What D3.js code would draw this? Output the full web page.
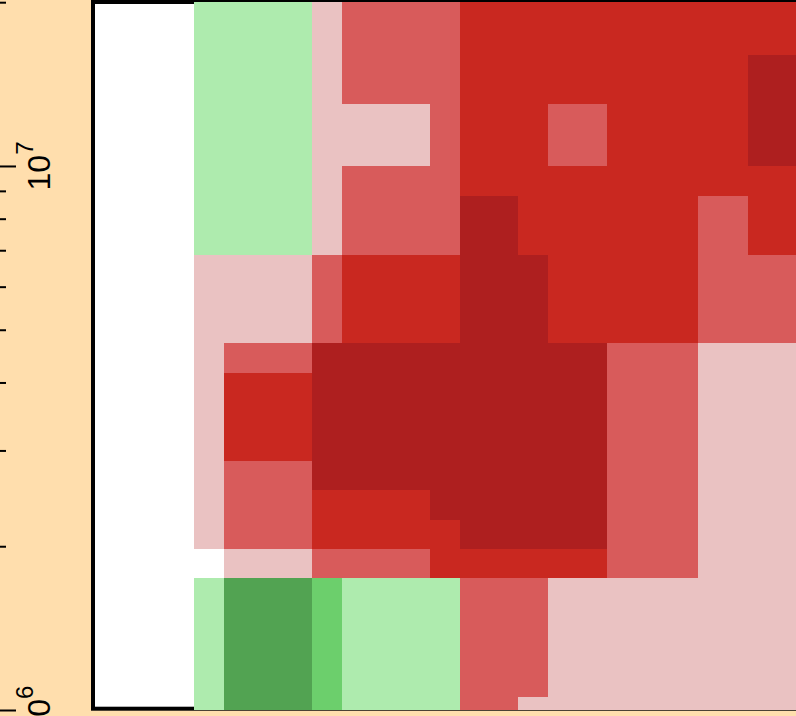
<!DOCTYPE html>
<html>
<head>
<meta charset="utf-8">
<script src="https://cdn.jsdelivr.net/npm/d3@7"></script>
<style>
  html, body { margin: 0; padding: 0; background: #FFDEAD; }
  svg { display: block; }
</style>
</head>
<body>
<svg id="chart" width="796" height="716"></svg>
<script>
// Column edges (x, in column units) and row edges (y, log scale values)
const xEdges = [0, 1, 4, 5, 8, 9, 11, 12, 14, 17.08, 18.78, 20.6];
const yEdges = [1e6, 1.057e6, 1.748e6, 1.977e6, 2.235e6, 2.537e6, 2.870e6,
                4.164e6, 4.727e6, 6.862e6, 8.809e6, 1e7, 1.3e7, 1.6e7, 2e7];
// Levels per row (bottom row first), one value per column; null = empty
// -3 dark green, -2 green, -1 light green, 1 light red, 2 mid red, 3 red, 4 dark red
const levels = [
  [-1, -3, -2, -1, -1, 2, 1, 1, 1, 1, 1],   // 1.00e6 - 1.06e6
  [-1, -3, -2, -1, -1, 2, 2, 1, 1, 1, 1],   // 1.06e6 - 1.75e6
  [null, 1, 2, 2, 3, 3, 3, 3, 2, 1, 1],     // 1.75e6 - 1.98e6
  [1, 2, 3, 3, 3, 4, 4, 4, 2, 1, 1],        // 1.98e6 - 2.24e6
  [1, 2, 3, 3, 4, 4, 4, 4, 2, 1, 1],        // 2.24e6 - 2.54e6
  [1, 2, 4, 4, 4, 4, 4, 4, 2, 1, 1],        // 2.54e6 - 2.87e6
  [1, 3, 4, 4, 4, 4, 4, 4, 2, 1, 1],        // 2.87e6 - 4.16e6
  [1, 2, 4, 4, 4, 4, 4, 4, 2, 1, 1],        // 4.16e6 - 4.73e6
  [1, 1, 2, 3, 3, 4, 4, 3, 3, 2, 2],        // 4.73e6 - 6.86e6
  [-1, -1, 1, 2, 2, 4, 3, 3, 3, 2, 3],      // 6.86e6 - 8.81e6
  [-1, -1, 1, 2, 2, 3, 3, 3, 3, 3, 3],      // 8.81e6 - 1.0e7
  [-1, -1, 1, 1, 2, 3, 3, 2, 3, 3, 4],      // 1.0e7 - 1.3e7
  [-1, -1, 1, 2, 2, 3, 3, 3, 3, 3, 4],      // 1.3e7 - 1.6e7
  [-1, -1, 1, 2, 2, 3, 3, 3, 3, 3, 3]       // 1.6e7 - 2.0e7
];
const majorTicks = [1e6, 1e7];
const majorExponents = ["6", "7"];
const minorTicks = [2e6, 3e6, 4e6, 5e6, 6e6, 7e6, 8e6, 9e6, 2e7];

const svg = d3.select("#chart");

const x = d3.scaleLinear().domain([-3.424, 20.407]).range([93, 796]);
const y = d3.scaleLog().domain([1e6, 2e7]).range([710, 2.2]);

const color = d3.scaleOrdinal()
  .domain([-3, -2, -1, 1, 2, 3, 4])
  .range(["#52A352", "#6CCF6C", "#AEEBAE", "#EAC2C2", "#D85B5B", "#C92820", "#AE1F1F"]);

// Plot frame (drawn under the cells)
svg.append("rect")
  .attr("x", x.range()[0])
  .attr("y", 2)
  .attr("width", 820)
  .attr("height", 706.7)
  .attr("fill", "#ffffff")
  .attr("stroke", "#000")
  .attr("stroke-width", 4);

// Cells
const cells = [];
levels.forEach((row, ri) => {
  row.forEach((v, ci) => {
    if (v === null) return;
    cells.push({x0: xEdges[ci], x1: xEdges[ci + 1], y0: yEdges[ri], y1: yEdges[ri + 1], v});
  });
});

svg.append("g")
  .selectAll("rect")
  .data(cells)
  .join("rect")
  .attr("x", d => x(d.x0))
  .attr("y", d => y(d.y1))
  .attr("width", d => x(d.x1) - x(d.x0))
  .attr("height", d => y(d.y0) - y(d.y1))
  .attr("fill", d => color(d.v))
  .attr("shape-rendering", "crispEdges");

// Y axis ticks (axis line lies outside the visible area)
const axisMajor = d3.axisRight(y).tickValues(majorTicks).tickSize(20).tickFormat("");
const axisMinor = d3.axisRight(y).tickValues(minorTicks).tickSize(10).tickFormat("");
const gMaj = svg.append("g").attr("transform", "translate(-4,0)").call(axisMajor);
const gMin = svg.append("g").attr("transform", "translate(-4,0)").call(axisMinor);
[gMaj, gMin].forEach(g => {
  g.select(".domain").remove();
  g.selectAll(".tick line").attr("stroke", "#000").attr("stroke-width", 2);
});

// Tick labels 10^n, rotated
majorTicks.forEach((t, i) => {
  const txt = svg.append("text")
    .attr("transform", `translate(50,${y(t)}) rotate(-90)`)
    .attr("text-anchor", "middle")
    .attr("font-family", "Liberation Sans, Arial, sans-serif")
    .attr("font-size", 32)
    .attr("fill", "#000");
  txt.append("tspan").text("10");
  txt.append("tspan").attr("dy", -17).attr("font-size", 24).text(majorExponents[i]);
});
</script>
</body>
</html>
